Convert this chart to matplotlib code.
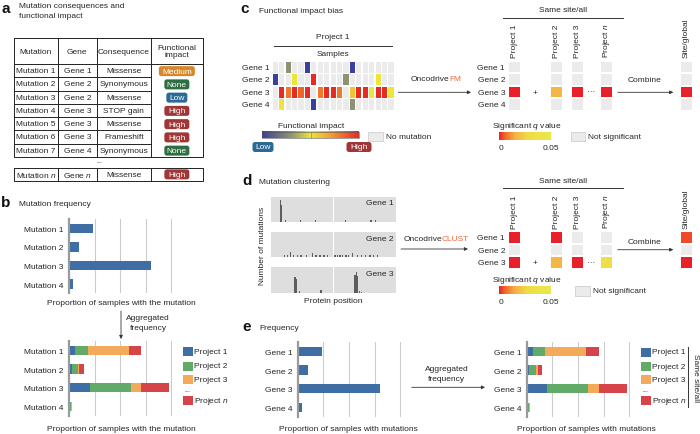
import numpy as np
import matplotlib
matplotlib.use('Agg')
import matplotlib.pyplot as plt
from matplotlib.patches import Rectangle, FancyBboxPatch
from matplotlib.colors import LinearSegmentedColormap

plt.rcParams['font.family'] = ['Liberation Sans', 'DejaVu Sans']
plt.rcParams['mathtext.fontset'] = 'custom'
plt.rcParams['mathtext.it'] = 'Liberation Sans:italic'
plt.rcParams['mathtext.rm'] = 'Liberation Sans'

nan = np.nan

# ---------------- data ----------------
# a: mutation table
table_mutations = ['Mutation 1', 'Mutation 2', 'Mutation 3', 'Mutation 4',
                   'Mutation 5', 'Mutation 6', 'Mutation 7']
table_genes = ['Gene 1', 'Gene 2', 'Gene 2', 'Gene 3', 'Gene 3', 'Gene 3', 'Gene 4']
table_consequences = ['Missense', 'Synonymous', 'Missense', 'STOP gain',
                      'Missense', 'Frameshift', 'Synonymous']
table_impact = ['Medium', 'None', 'Low', 'High', 'High', 'High', 'None']
table_last = ['Mutation $n$', 'Gene $n$', 'Missense', 'High']

# b: mutation frequency (arbitrary units, grid step = 1)
mutation_labels = ['Mutation 1', 'Mutation 2', 'Mutation 3', 'Mutation 4']
mutation_freq = [0.95, 0.39, 3.2, 0.14]
mutation_proj1 = [0.25, 0.12, 0.81, 0.04]
mutation_proj2 = [0.49, 0.22, 1.61, 0.05]
mutation_proj3 = [1.61, 0.06, 0.40, 0.03]
mutation_projn = [0.48, 0.17, 1.11, 0.0]
project_labels = ['Project 1', 'Project 2', 'Project 3', 'Project $n$']

# c: functional impact per sample (0 = low, 1 = high, nan = no mutation)
gene_labels = ['Gene 1', 'Gene 2', 'Gene 3', 'Gene 4']
impact_gene1 = [nan, nan, 0.3, nan, nan, 0.0, nan, nan, nan, nan, nan, nan, 0.0, nan, nan, nan, nan, nan, nan]
impact_gene2 = [0.0, nan, nan, 0.5, nan, nan, 1.0, nan, nan, nan, nan, 0.3, nan, nan, nan, nan, 0.5, nan, nan]
impact_gene3 = [nan, 1.0, 0.8, 1.0, 0.85, 1.0, nan, 0.8, 1.0, 1.0, 0.8, nan, 0.6, 1.0, 1.0, 0.5, 1.0, 1.0, 0.5]
impact_gene4 = [nan, 0.5, nan, nan, nan, nan, 0.0, nan, nan, nan, nan, nan, 0.3, nan, nan, nan, nan, nan, nan]
q_columns = ['Project 1', 'Project 2', 'Project 3', 'Project $n$']
fm_q = [[nan, nan, nan, nan],
        [nan, nan, nan, nan],
        [0.0, 0.017, 0.0, 0.0],
        [nan, nan, nan, nan]]
fm_q_site = [nan, nan, 0.0, nan]

# d: mutation clustering (protein position 0-100, counts)
clust_genes = ['Gene 1', 'Gene 2', 'Gene 3']
gene1_pos = [7.6, 8.2, 11.5, 23.8, 35.8, 59.6, 80.2, 83.7]
gene1_cnt = [8.8, 6.5, 0.8, 0.7, 0.8, 0.7, 0.8, 0.7]
gene2_pos = [10.7, 13.4, 15.5, 17.9, 21.1, 24.1, 28.6, 33.1, 36.1, 39.3, 42.5, 45.5, 51.3,
             53.2, 55.3, 57.5, 60.1, 62.5, 65.5, 69.5, 72.7, 75.9, 79.4, 82.3, 85.2]
gene2_cnt = [0.6, 0.8, 1.8, 0.8, 0.7, 0.9, 0.7, 1.4, 0.7, 0.7, 0.8, 0.7, 0.6,
             0.7, 0.8, 0.7, 0.8, 0.7, 1.4, 0.7, 0.8, 0.7, 0.7, 0.8, 0.7]
gene3_pos = [19.2, 20.0, 22.7, 40.1, 67.4, 68.4, 69.2, 70.8, 72.7]
gene3_cnt = [6.2, 5.5, 0.6, 1.0, 7.0, 8.2, 6.5, 0.8, 0.5]
clust_q = [[0.0, 0.0, nan, nan],
           [nan, nan, nan, nan],
           [0.0, 0.017, 0.0, 0.032]]
clust_q_site = [0.0035, nan, 0.0]

# e: gene frequency
gene_freq = [0.96, 0.40, 3.21, 0.16]
gene_proj1 = [0.25, 0.10, 0.80, 0.03]
gene_proj2 = [0.47, 0.25, 1.60, 0.06]
gene_proj3 = [1.60, 0.08, 0.40, 0.02]
gene_projn = [0.49, 0.16, 1.11, 0.0]

# ---------------- style ----------------
TXT = '#262626'
FS = 6
BLUE = '#3E6EA3'
proj_colors = ['#3E6EA3', '#62AA68', '#F3AA5A', '#D6444A']
NOMUT = '#EBEBEB'
ORANGE_TXT = '#F2693A'
badge_colors = {'Medium': '#D6892C', 'None': '#2F6E43', 'Low': '#2C6A96', 'High': '#A13636'}
badge_width = {'Medium': 36, 'None': 25, 'Low': 21, 'High': 25}

impact_cmap = LinearSegmentedColormap.from_list(
    'impact', [(0, '#3B40A0'), (0.3, '#8E9472'), (0.5, '#ECE63A'), (0.7, '#F5A030'), (1, '#E82A25')])
q_cmap = LinearSegmentedColormap.from_list(
    'qval', [(0, '#E8202A'), (0.12, '#F26B2A'), (0.3, '#F5AE45'), (0.55, '#F0DC45'), (1, '#EAE84E')])

W, H = 700, 435
fig = plt.figure(figsize=(7, 4.35), dpi=100)
ov = fig.add_axes([0, 0, 1, 1])
ov.axis('off')


def px_axes(x0, y0, x1, y1):
    return fig.add_axes([x0 / W, 1 - y1 / H, (x1 - x0) / W, (y1 - y0) / H])


def txt(x, y, s, **kw):
    kw.setdefault('fontsize', FS)
    kw.setdefault('color', TXT)
    kw.setdefault('va', 'center')
    return ov.text(x, y, s, **kw)


def arrow(x0, y0, x1, y1):
    ov.annotate('', xy=(x1, y1), xytext=(x0, y0),
                arrowprops=dict(arrowstyle='-|>', color='#333333', lw=0.6,
                                mutation_scale=5, shrinkA=0, shrinkB=0))


def badge(cx, cy, label):
    w = badge_width[label]
    ov.add_patch(FancyBboxPatch((cx - w / 2, cy - 5), w, 10,
                                boxstyle='round,pad=0,rounding_size=2.5',
                                fc=badge_colors[label], ec='none'))
    txt(cx, cy, label, ha='center', color='white')


def panel_letter(x, y, s):
    txt(x, y, s, fontsize=11, fontweight='bold', va='baseline', color='#111111')


def cell_grid(xs, ys, cw, ch, values, cmap, vmax):
    # one coloured cell per value, grey where there is no value
    for i, y in enumerate(ys):
        for j, x in enumerate(xs):
            v = values[i][j]
            col = NOMUT if np.isnan(v) else cmap(v / vmax)
            ov.add_patch(Rectangle((x - cw / 2, y - ch / 2), cw, ch, fc=col, ec='none'))


def freq_axes(x0, y0, x1, y1, labels):
    ax = px_axes(x0, y0, x1, y1)
    ax.set_xlim(0, 4.03)
    ax.set_ylim(len(labels) - 0.5, -0.5)
    ax.set_xticks([1, 2, 3, 4])
    ax.set_xticklabels([])
    ax.tick_params(axis='x', length=0)
    ax.set_yticks(range(len(labels)))
    ax.set_yticklabels(labels, fontsize=FS, color=TXT)
    ax.tick_params(axis='y', length=0, pad=4)
    ax.grid(axis='x', color='#CCCCCC', lw=0.8)
    ax.set_axisbelow(True)
    for s in ['top', 'right', 'bottom']:
        ax.spines[s].set_visible(False)
    ax.spines['left'].set_color('#9A9A9A')
    ax.spines['left'].set_linewidth(1.6)
    ax.patch.set_alpha(0)
    return ax


def stacked(ax, series):
    left = np.zeros(len(series[0]))
    for vals, col in zip(series, proj_colors):
        ax.barh(range(len(vals)), vals, left=left, height=0.5, color=col)
        left += np.array(vals)


def project_legend(x, y0):
    ys = [y0, y0 + 14.3, y0 + 27.8]
    for y, lab, col in zip(ys, project_labels[:3], proj_colors[:3]):
        ov.add_patch(Rectangle((x, y - 4.5), 9.5, 9, fc=col, ec='none'))
        txt(x + 11.5, y, lab)
    txt(x + 1, y0 + 37.5, '...', fontsize=5)
    ov.add_patch(Rectangle((x, y0 + 48.5 - 4.5), 9.5, 9, fc=proj_colors[3], ec='none'))
    txt(x + 11.5, y0 + 48.5, project_labels[3])


def q_grid(y_top, q, q_site, genes):
    rows = y_top + 12.55 * (np.arange(len(genes)) + 0.5)
    cell_grid(cols_x, rows, 11, 10.5, q, q_cmap, 0.05)
    cell_grid([site_x], rows, 11, 10.5, [[v] for v in q_site], q_cmap, 0.05)
    for g, y in zip(genes, rows):
        txt(505, y, g, ha='right')


def combine_block(y_title, y_line, y_labels, y_mid, y_plus, y_arrow, y_sig):
    txt(563, y_title, 'Same site/all', ha='center')
    ov.plot([503, 623], [y_line, y_line], color='#333333', lw=0.7)
    for cx, lab in zip(cols_x, q_columns):
        txt(cx, y_labels, lab, rotation=90, ha='center', va='bottom')
    txt(site_x, y_labels, 'Site/global', rotation=90, ha='center', va='bottom')
    txt(535.3, y_plus, '+', ha='center')
    txt(591, y_plus, '···', ha='center')
    txt(645, y_mid, 'Combine', ha='center')
    arrow(617.7, y_arrow, 673.3, y_arrow)
    txt(526.7, y_sig, 'Significant $q$ value', ha='center')
    grad = np.linspace(0, 1, 256)[None, :]
    ov.imshow(grad, extent=(499.3, 550.7, y_sig + 14, y_sig + 6.8), cmap=q_cmap,
              aspect='auto', interpolation='bilinear')
    txt(500.7, y_sig + 21.5, '0', ha='center')
    txt(550.7, y_sig + 21.5, '0.05', ha='center')


cols_x = [514.5, 556.5, 577.5, 606.5]
site_x = 686.3

# ---------------- a ----------------
panel_letter(1, 13.3, 'a')
txt(19, 6, 'Mutation consequences and')
txt(19, 16, 'functional impact')

col_edges = [14, 58, 96.7, 150.7, 203]
col_mid = [(col_edges[i] + col_edges[i + 1]) / 2 for i in range(4)]
t_top, t_head, row_h = 39.3, 65.0, 13.25
t_bot = t_head + row_h * len(table_mutations)
lk = dict(color='#222222', lw=0.7)
ov.plot([14, 203, 203, 14, 14], [t_top, t_top, t_bot, t_bot, t_top], **lk)
for x in col_edges[1:-1]:
    ov.plot([x, x], [t_top, t_bot], **lk)
ov.plot([14, 203], [t_head, t_head], **lk)
for i in range(1, len(table_mutations)):
    y = t_head + row_h * i
    ov.plot([14, col_edges[3]], [y, y], **lk)
for s, cx in zip(['Mutation', 'Gene', 'Consequence'], col_mid):
    txt(cx, (t_top + t_head) / 2, s, ha='center')
txt(col_mid[3], (t_top + t_head) / 2, 'Functional\nimpact', ha='center', linespacing=1.1)
for i, row in enumerate(zip(table_mutations, table_genes, table_consequences)):
    y = t_head + row_h * (i + 0.5)
    for s, cx in zip(row, col_mid):
        txt(cx, y, s, ha='center')
    badge(col_mid[3], y + 0.5, table_impact[i])
txt(99, 161.5, '...', ha='center', fontsize=5)
l_top, l_bot = 169, 181.7
ov.plot([14, 203, 203, 14, 14], [l_top, l_top, l_bot, l_bot, l_top], **lk)
for x in col_edges[1:-1]:
    ov.plot([x, x], [l_top, l_bot], **lk)
for s, cx in zip(table_last[:3], col_mid):
    txt(cx, (l_top + l_bot) / 2, s, ha='center')
badge(col_mid[3], (l_top + l_bot) / 2, table_last[3])

# ---------------- b ----------------
panel_letter(1, 206.7, 'b')
txt(19, 205, 'Mutation frequency')
axb1 = freq_axes(69, 220, 171.3 + 0.75, 294.4, mutation_labels)
axb1.barh(range(4), mutation_freq, height=0.5, color=BLUE)
txt(121, 304, 'Proportion of samples with the mutation', ha='center')
arrow(121, 312, 121, 340)
txt(148, 319, 'Aggregated', ha='center')
txt(148, 329, 'frequency', ha='center')
axb2 = freq_axes(69, 342, 171.3 + 0.75, 416.7, mutation_labels)
stacked(axb2, [mutation_proj1, mutation_proj2, mutation_proj3, mutation_projn])
project_legend(183, 352.7)
txt(121, 430, 'Proportion of samples with the mutation', ha='center')

# ---------------- c ----------------
panel_letter(240.5, 13.3, 'c')
txt(259, 11.5, 'Functional impact bias')
txt(333, 37.3, 'Project 1', ha='center')
ov.plot([274, 392.3], [47.3, 47.3], color='#333333', lw=0.7)
txt(333, 54, 'Samples', ha='center')
impact = [impact_gene1, impact_gene2, impact_gene3, impact_gene4]
sample_x = 275.3 + 6.43 * np.arange(len(impact_gene1))
gene_y = 68.3 + 12.47 * np.arange(len(gene_labels))
cell_grid(sample_x, gene_y, 5.2, 10.6, impact, impact_cmap, 1.0)
for g, y in zip(gene_labels, gene_y):
    txt(269.3, y, g, ha='right')
txt(311, 126, 'Functional impact', ha='center')
grad = np.linspace(0, 1, 256)[None, :]
ov.imshow(grad, extent=(262.3, 359.3, 139.3, 132.7), cmap=impact_cmap, aspect='auto',
          interpolation='bilinear')
ov.add_patch(Rectangle((262.3, 132.7), 97, 6.6, fc='none', ec='#555555', lw=0.4))
ov.plot([310.8, 310.8], [132.7, 139.3], color='#777777', lw=0.4)
ov.add_patch(Rectangle((368.3, 133), 14.4, 8.5, fc=NOMUT, ec='#C8C8C8', lw=0.5))
txt(386, 137.3, 'No mutation')
badge(263, 148, 'Low')
badge(359, 148, 'High')

t_fm = txt(411, 83.3, 'Oncodrive', va='bottom')
ov.annotate('FM', xy=(1, 0), xycoords=t_fm, va='bottom', ha='left', fontsize=FS, color=ORANGE_TXT)
arrow(398.3, 93.3, 471, 93.3)

q_grid(61.75, fm_q, fm_q_site, gene_labels)
combine_block(11, 19, 58.3, 80.7, 93, 93.3, 126.7)
ov.add_patch(Rectangle((570.7, 133), 14.3, 9, fc=NOMUT, ec='#C8C8C8', lw=0.5))
txt(588, 137.5, 'Not significant')

# ---------------- d ----------------
panel_letter(242.5, 185, 'd')
txt(259, 182.3, 'Mutation clustering')
prot_rows = [(197.5, 222.5), (232.5, 258), (268, 294)]
prot_data = [(gene1_pos, gene1_cnt), (gene2_pos, gene2_cnt), (gene3_pos, gene3_cnt)]
for (y0, y1), (pos, cnt), name in zip(prot_rows, prot_data, clust_genes):
    ax = px_axes(271, y0, 395.7, y1)
    ax.set_facecolor('#DEDEDE')
    ax.set_xlim(0, 100)
    ax.set_ylim(0, 10)
    ax.axvline(50, color='white', lw=0.8)
    ax.bar(pos, cnt, width=0.9, color='#5E5E5E')
    ax.set_xticks([])
    ax.set_yticks([])
    for s in ax.spines.values():
        s.set_visible(False)
    ax.text(0.985, 0.74, name, transform=ax.transAxes, ha='right', va='center',
            fontsize=FS, color=TXT)
txt(262.3, 245.5, 'Number of mutations', rotation=90, ha='center')
txt(333, 301.7, 'Protein position', ha='center')

t_cl = txt(403.3, 242.7, 'Oncodrive', va='bottom')
ov.annotate('CLUST', xy=(1, 0), xycoords=t_cl, va='bottom', ha='left', fontsize=FS, color=ORANGE_TXT)
arrow(401, 250, 468, 250)

q_grid(232.2, clust_q, clust_q_site, clust_genes)
combine_block(181.7, 189.3, 229, 242.7, 263.7, 250.7, 280.7)
ov.add_patch(Rectangle((575, 287.3), 15, 9.4, fc=NOMUT, ec='#C8C8C8', lw=0.5))
txt(593, 292, 'Not significant')

# ---------------- e ----------------
panel_letter(242.5, 330.7, 'e')
txt(259, 329, 'Frequency')
axe1 = freq_axes(297.7, 343, 400.3 + 0.75, 417.7, gene_labels)
axe1.barh(range(4), gene_freq, height=0.5, color=BLUE)
txt(348.3, 429.3, 'Proportion of samples with mutations', ha='center')
txt(446.7, 370, 'Aggregated', ha='center')
txt(446.7, 379.5, 'frequency', ha='center')
arrow(411.7, 388.3, 485, 388.3)
axe2 = freq_axes(526.7, 343, 629.3 + 0.75, 417.7, gene_labels)
stacked(axe2, [gene_proj1, gene_proj2, gene_proj3, gene_projn])
project_legend(641, 353)
ov.plot([688.3, 688.3], [348.3, 408.3], color='#333333', lw=0.7)
txt(695, 378, 'Same site/all', rotation=270, ha='center')
txt(586.7, 430, 'Proportion of samples with mutations', ha='center')

ov.set_xlim(0, W)
ov.set_ylim(H, 0)

fig.savefig('out.png', dpi=100)
